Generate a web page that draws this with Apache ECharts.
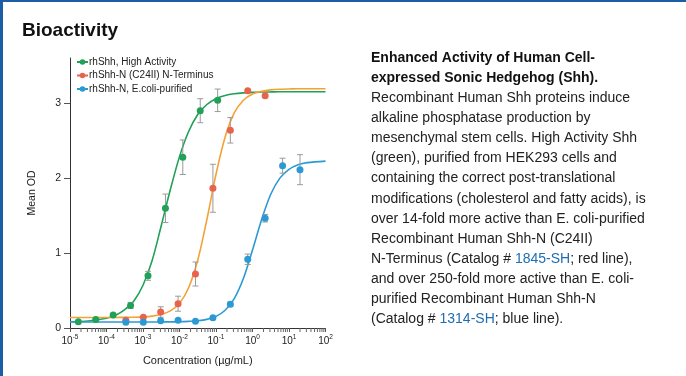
<!DOCTYPE html>
<html>
<head>
<meta charset="utf-8">
<script src="https://cdn.jsdelivr.net/npm/echarts@6/dist/echarts.min.js"></script>
<style>
  html, body, #main { width: 686px; height: 376px; margin: 0; background: #fff; }
</style>
</head>
<body>
<div id="main"></div>
<script>
// legend names
var names = ['rhShh, High Activity', 'rhShh-N (C24II) N-Terminus', 'rhShh-N, E.coli-purified'];

// measured points: concentration (ug/mL), mean OD, error
var greenConc = [1.69e-5, 5.08e-5, 1.52e-4, 4.57e-4, 1.37e-3, 4.12e-3, 1.23e-2, 3.7e-2, 0.111];
var greenOD   = [0.084, 0.113, 0.173, 0.30, 0.696, 1.596, 2.277, 2.897, 3.036];
var greenErr  = [0.01, 0.01, 0.02, 0.04, 0.06, 0.19, 0.23, 0.16, 0.15];

var redConc = [3.39e-4, 1.02e-3, 3.05e-3, 9.14e-3, 2.74e-2, 8.23e-2, 0.247, 0.741, 2.22];
var redOD   = [0.103, 0.143, 0.213, 0.324, 0.72, 1.863, 2.636, 3.164, 3.097];
var redErr  = [0.01, 0.02, 0.07, 0.10, 0.16, 0.32, 0.17, 0.02, 0.02];

var blueConc = [3.39e-4, 1.02e-3, 3.05e-3, 9.14e-3, 2.74e-2, 8.23e-2, 0.247, 0.741, 2.22, 6.67, 20];
var blueOD   = [0.076, 0.076, 0.097, 0.103, 0.089, 0.137, 0.316, 0.916, 1.463, 2.164, 2.111];
var blueErr  = [0.01, 0.01, 0.01, 0.01, 0.01, 0.01, 0.03, 0.07, 0.05, 0.10, 0.20];

// fitted curves
var curveConc = [1e-5, 3.16e-5, 1e-4, 1.78e-4, 3.16e-4, 5.62e-4, 1e-3, 1.78e-3, 3.16e-3, 5.62e-3,
                 1e-2, 1.78e-2, 3.16e-2, 5.62e-2, 0.1, 0.178, 0.316, 0.562, 1, 1.78, 3.16, 5.62, 10, 17.8, 31.6, 100];
var greenCurve = [0.084, 0.094, 0.129, 0.17, 0.246, 0.36, 0.57, 0.9, 1.364, 1.846,
                  2.285, 2.62, 2.846, 2.98, 3.057, 3.10, 3.123, 3.135, 3.142, 3.146, 3.148, 3.15, 3.15, 3.15, 3.15, 3.15];
var orangeCurve = [0.14, 0.14, 0.14, 0.141, 0.142, 0.144, 0.148, 0.158, 0.18, 0.228,
                   0.33, 0.537, 0.903, 1.445, 2.05, 2.546, 2.867, 3.037, 3.12, 3.157, 3.175, 3.183, 3.187, 3.19, 3.19, 3.19];
var blueCurve = [0.08, 0.08, 0.08, 0.08, 0.08, 0.08, 0.08, 0.081, 0.081, 0.082,
                 0.083, 0.088, 0.096, 0.115, 0.155, 0.236, 0.392, 0.66, 1.039, 1.447, 1.783, 1.998, 2.116, 2.176, 2.205, 2.225];

// axis ticks
var yTicks = [0, 1, 2, 3];
var minorMult = [2, 3, 4, 5, 6, 7, 8, 9];
var decades = [1e-5, 1e-4, 1e-3, 1e-2, 1e-1, 1, 10];

var font = 'Liberation Sans, Arial, sans-serif';

function pairs(xs, ys) {
    var out = [];
    for (var i = 0; i < xs.length; i++) out.push([xs[i], ys[i]]);
    return out;
}
function errData(xs, ys, es) {
    var out = [];
    for (var i = 0; i < xs.length; i++) {
        if (es[i] >= 0.03) out.push([xs[i], ys[i] - es[i], ys[i] + es[i]]);
    }
    return out;
}
function errRender(params, api) {
    var top = api.coord([api.value(0), api.value(2)]);
    var bot = api.coord([api.value(0), api.value(1)]);
    var w = 3;
    var st = { stroke: '#9a9a9a', lineWidth: 1 };
    return { type: 'group', children: [
        { type: 'line', shape: { x1: top[0], y1: top[1], x2: bot[0], y2: bot[1] }, style: st },
        { type: 'line', shape: { x1: top[0] - w, y1: top[1], x2: top[0] + w, y2: top[1] }, style: st },
        { type: 'line', shape: { x1: bot[0] - w, y1: bot[1], x2: bot[0] + w, y2: bot[1] }, style: st }
    ]};
}

var minorTicks = [];
decades.forEach(function (d) {
    minorMult.forEach(function (m) { minorTicks.push([d * m]); });
});

var colGreen = '#21a157', colOrange = '#f4a236', colRed = '#e8634c', colBlue = '#2b9ad4';

var chart = echarts.init(document.getElementById('main'));

// right-hand description
var descLines = [
    ['{b|Enhanced Activity of Human Cell-}'],
    ['{b|expressed Sonic Hedgehog (Shh).}'],
    ['Recombinant Human Shh proteins induce'],
    ['alkaline phosphatase production by'],
    ['mesenchymal stem cells. High Activity Shh'],
    ['(green), purified from HEK293 cells and'],
    ['containing the correct post-translational'],
    ['modifications (cholesterol and fatty acids), is'],
    ['over 14-fold more active than E. coli-purified'],
    ['Recombinant Human Shh-N (C24II)'],
    ['N-Terminus (Catalog # {a|1845-SH}; red line),'],
    ['and over 250-fold more active than E. coli-'],
    ['purified Recombinant Human Shh-N'],
    ['(Catalog # {a|1314-SH}; blue line).']
];
var graphics = [
    { type: 'rect', left: 0, top: 0, shape: { width: 686, height: 2 }, style: { fill: '#1c5ea6' } },
    { type: 'rect', left: 0, top: 0, shape: { width: 3, height: 376 }, style: { fill: '#1c5ea6' } },
    { type: 'text', left: 22, top: 21, style: { text: 'Bioactivity', font: 'bold 19px ' + font, fill: '#111' } }
];
descLines.forEach(function (l, i) {
    graphics.push({
        type: 'text', x: 371, y: 58 + i * 20.1,
        style: {
            text: l[0], fill: '#222', font: '14px ' + font, verticalAlign: 'middle',
            rich: {
                b: { font: 'bold 14px ' + font, fill: '#111' },
                a: { font: '14px ' + font, fill: '#1f6db3' }
            }
        }
    });
});

var option = {
    animation: false,
    backgroundColor: '#fff',
    graphic: graphics,
    grid: { left: 70, right: 360.5, top: 58, bottom: 48 },
    legend: {
        orient: 'vertical', left: 76, top: 57, padding: 0,
        itemWidth: 11, itemHeight: 7, itemGap: 3.5,
        textStyle: { fontSize: 10, fontFamily: font, color: '#222', padding: [0, 0, 0, -4] },
        data: [
            { name: names[0] },
            { name: names[1], lineStyle: { color: colRed } },
            { name: names[2] }
        ]
    },
    xAxis: {
        type: 'log', logBase: 10, min: 1e-5, max: 100, splitNumber: 7,
        name: 'Concentration (\u00b5g/mL)', nameLocation: 'middle', nameGap: 27,
        nameTextStyle: { fontSize: 11, fontFamily: font, color: '#222' },
        axisLine: { lineStyle: { color: '#333', width: 1 } },
        axisTick: { length: 4, lineStyle: { color: '#555' } },
        splitLine: { show: false },
        axisLabel: {
            margin: 6,
            formatter: function (v) {
                return '{b|10}{s|' + Math.round(Math.log10(v)) + '}';
            },
            rich: {
                b: { fontSize: 10, fontFamily: font, color: '#222', lineHeight: 14 },
                s: { fontSize: 6.5, fontFamily: font, color: '#222', lineHeight: 8, verticalAlign: 'top' }
            }
        }
    },
    yAxis: {
        type: 'value', min: 0, max: 3.6, interval: 1,
        name: 'Mean OD', nameLocation: 'middle', nameGap: 32,
        nameTextStyle: { fontSize: 10.5, fontFamily: font, color: '#222' },
        axisLine: { show: true, lineStyle: { color: '#333', width: 1 } },
        axisTick: { show: true, length: 6, customValues: yTicks, lineStyle: { color: '#555' } },
        axisLabel: { customValues: yTicks, margin: 9, fontSize: 10.5, fontFamily: font, color: '#222' },
        splitLine: { show: false }
    },
    series: [
        { name: names[0], type: 'line', data: pairs(curveConc, greenCurve), smooth: 0.3, showSymbol: false,
          symbol: 'circle', symbolSize: 6, itemStyle: { color: colGreen }, lineStyle: { color: colGreen, width: 1.6 }, z: 2 },
        { name: names[1], type: 'line', data: pairs(curveConc, orangeCurve), smooth: 0.3, showSymbol: false,
          symbol: 'circle', symbolSize: 6, itemStyle: { color: colRed }, lineStyle: { color: colOrange, width: 1.6 }, z: 2 },
        { name: names[2], type: 'line', data: pairs(curveConc, blueCurve), smooth: 0.3, showSymbol: false,
          symbol: 'circle', symbolSize: 6, itemStyle: { color: colBlue }, lineStyle: { color: colBlue, width: 1.6 }, z: 2 },
        { name: 'errG', type: 'custom', renderItem: errRender, data: errData(greenConc, greenOD, greenErr), encode: { x: 0, y: [1, 2] }, z: 3 },
        { name: 'errR', type: 'custom', renderItem: errRender, data: errData(redConc, redOD, redErr), encode: { x: 0, y: [1, 2] }, z: 3 },
        { name: 'errB', type: 'custom', renderItem: errRender, data: errData(blueConc, blueOD, blueErr), encode: { x: 0, y: [1, 2] }, z: 3 },
        { name: names[0], type: 'scatter', data: pairs(greenConc, greenOD), symbolSize: 7, itemStyle: { color: colGreen, opacity: 1 }, z: 4 },
        { name: names[1], type: 'scatter', data: pairs(redConc, redOD), symbolSize: 7, itemStyle: { color: colRed, opacity: 1 }, z: 4 },
        { name: names[2], type: 'scatter', data: pairs(blueConc, blueOD), symbolSize: 7, itemStyle: { color: colBlue, opacity: 1 }, z: 4 },
        { name: 'minor', type: 'custom', data: minorTicks, encode: { x: 0 }, silent: true, clip: false,
          renderItem: function (params, api) {
              var p = api.coord([api.value(0), 0]);
              return { type: 'line', shape: { x1: p[0], y1: p[1], x2: p[0], y2: p[1] + 4 }, style: { stroke: '#666', lineWidth: 1 } };
          }, z: 1 }
    ]
};
chart.setOption(option);
</script>
</body>
</html>
